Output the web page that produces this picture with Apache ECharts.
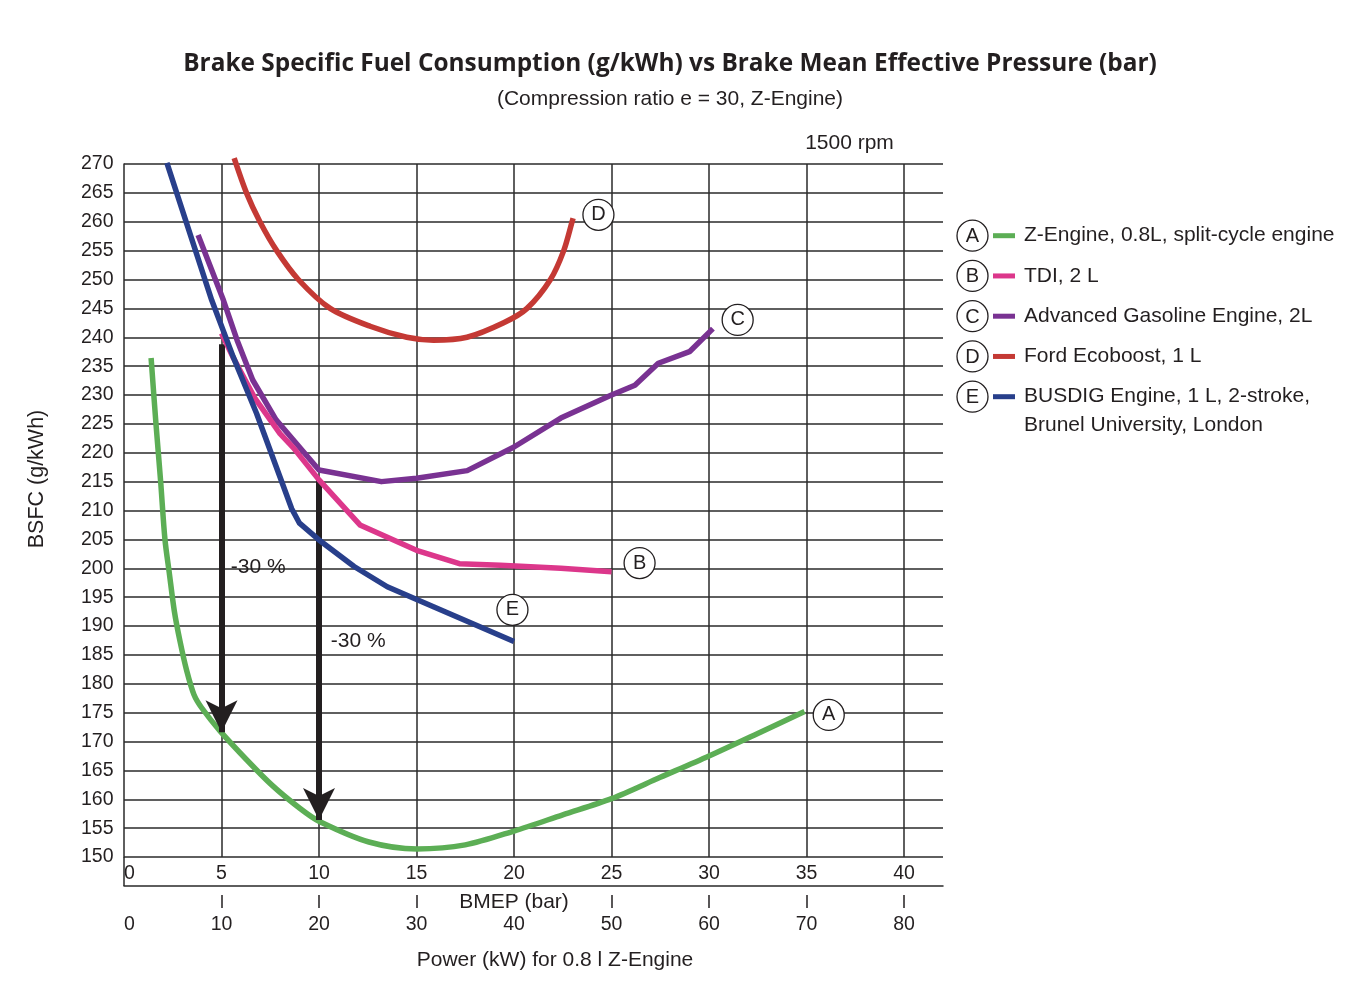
<!DOCTYPE html>
<html><head><meta charset="utf-8">
<script src="https://cdn.jsdelivr.net/npm/echarts@6/dist/echarts.min.js"></script>
<style>html,body{margin:0;padding:0;background:#fff}#chart{width:1356px;height:1005px}</style>
</head><body><div id="chart"></div>
<script>
// ---------- data ----------
const bmepTicks = [0, 5, 10, 15, 20, 25, 30, 35, 40];
const powerTicks = [0, 10, 20, 30, 40, 50, 60, 70, 80];
const powerTickMarks = [10, 20, 30, 50, 60, 70, 80];

// A: Z-Engine
const zEngine = [[1.39,236.4],[1.64,225],[1.88,215],[2.10,205],[2.33,199],[2.58,192.6],[2.87,187.4],[3.22,182.2],[3.59,178.1],[3.99,175.8],[4.93,171.8],[6.30,166.8],[7.6,162.4],[9.03,158.4],[10,156.2],[12.56,152.6],[15.03,151.4],[17.5,152.1],[20,154.5],[22.5,157.3],[25,160.1],[27.5,163.8],[30,167.5],[32.5,171.4],[34.9,175.2]];
// B: TDI 2 L
const tdi = [[5.0,240.7],[5.6,236.5],[6.7,229.5],[8.0,223.3],[8.7,220.8],[10.0,215.3],[12.1,207.5],[15.0,203.1],[17.2,200.8],[19.3,200.5],[22.4,200.0],[25.0,199.4]];
// C: Advanced Gasoline Engine 2L
const gasoline = [[3.8,257.7],[5.1,246.4],[5.8,239.5],[6.6,232.6],[7.8,225.7],[10,217],[13.2,215],[15,215.6],[17.6,216.9],[20,221],[22.4,226],[25,230],[26.2,231.7],[27.4,235.5],[29,237.5],[30.2,241.5]];
// D: Ford Ecoboost 1 L
const ecoboost = [[5.65,271.0],[6.28,265],[6.97,260],[7.83,255],[8.94,250],[10.57,245],[12.62,241.9],[14.5,240],[15.87,239.5],[17.59,240],[19.47,242.5],[20.67,245],[21.87,250],[22.55,255],[22.98,260],[23.03,260.6]];
// E: BUSDIG
const busdig = [[2.2,270.2],[4.5,246.4],[5.6,236.6],[6.8,226.8],[8.0,215.8],[8.6,210.3],[9.0,207.8],[10,204.9],[11.8,200.3],[13.5,196.8],[15.9,193.3],[20,187.3]];

const seriesNames = ['Z-Engine, 0.8L, split-cycle engine', 'TDI, 2 L', 'Advanced Gasoline Engine, 2L', 'Ford Ecoboost, 1 L', 'BUSDIG Engine, 1 L, 2-stroke,\nBrunel University, London'];
const seriesLetters = ['A', 'B', 'C', 'D', 'E'];
const letterPositions = [[36.14,174.6],[26.44,200.9],[31.47,243.0],[24.33,261.2],[19.92,192.8]];
const arrowStarts = [[5,238.8],[10,215.3]];
const arrowTips = [[5,171.6],[10,156.4]];
const arrowLabelPos = [[5.45,200.2],[10.58,187.4]];
const arrowLabel = '-30 %';

// ---------- style ----------
const colors = ['#5cae55', '#dc378b', '#793292', '#c43934', '#283f8b'];
const TXT = '#231f20';
const GRIDC = '#2a2a2a';
const FONT = "'Liberation Sans', Arial, sans-serif";
const smoothing = [0.3, false, false, 0.3, false];
const zs = [3, 5, 4, 2, 6];

const chart = echarts.init(document.getElementById('chart'), null, {renderer: 'canvas'});

const series = [zEngine, tdi, gasoline, ecoboost, busdig].map((d, i) => ({
  type: 'line', name: seriesNames[i], data: d, symbol: 'none', showSymbol: false,
  smooth: smoothing[i],
  clip: false, z: zs[i], silent: true,
  lineStyle: {color: colors[i], width: 5.5, cap: 'butt', join: 'round'},
  markPoint: {
    silent: true, symbol: 'circle', symbolSize: 31,
    itemStyle: {color: '#fff', borderColor: TXT, borderWidth: 1.3},
    label: {show: true, formatter: seriesLetters[i], color: TXT, fontSize: 20, fontFamily: FONT},
    data: [{coord: letterPositions[i]}]
  }
}));

series.push({
  type: 'line', name: 'arrows', data: [], z: 10, silent: true,
  markLine: {
    silent: true, symbol: ['none', 'arrow'], symbolSize: [24, 32],
    lineStyle: {color: TXT, width: 6, type: 'solid', opacity: 1},
    itemStyle: {color: TXT},
    label: {show: false},
    emphasis: {disabled: true},
    data: arrowStarts.map((s, i) => [{coord: s}, {coord: arrowTips[i]}])
  },
  markPoint: {
    silent: true, symbol: 'circle', symbolSize: 1, itemStyle: {color: 'rgba(0,0,0,0)'},
    label: {show: true, position: 'right', distance: 0, formatter: arrowLabel, color: TXT, fontSize: 21, fontFamily: FONT},
    data: arrowLabelPos.map(p => ({coord: p}))
  }
});

const option = {
  animation: false,
  backgroundColor: '#fff',
  title: [
    {text: 'Brake Specific Fuel Consumption (g/kWh) vs Brake Mean Effective Pressure (bar)', left: 670, top: 52, textAlign: 'center', padding: 0,
     textStyle: {fontFamily: "'Open Sans', sans-serif", fontWeight: 700, fontSize: 24.4, color: TXT}},
    {text: '(Compression ratio e = 30, Z-Engine)', left: 670, top: 88.5, textAlign: 'center', padding: 0,
     textStyle: {fontFamily: FONT, fontWeight: 'normal', fontSize: 21, color: TXT}},
    {text: '1500 rpm', left: 849.5, top: 132.5, textAlign: 'center', padding: 0,
     textStyle: {fontFamily: FONT, fontWeight: 'normal', fontSize: 21, color: TXT}}
  ],
  grid: {left: 124, top: 164, width: 819, height: 693, containLabel: false},
  xAxis: [
    {type: 'value', min: 0, max: 42, interval: 5, position: 'bottom', offset: 29,
     axisLine: {show: true, lineStyle: {color: GRIDC, width: 1.5}},
     axisTick: {show: false},
     axisLabel: {inside: true, margin: 2, customValues: bmepTicks, alignMinLabel: 'left', color: TXT, fontSize: 19.5, fontFamily: FONT},
     splitLine: {show: true, showMinLine: false, showMaxLine: false, lineStyle: {color: GRIDC, width: 1.5}},
     name: 'BMEP (bar)', nameLocation: 'middle', nameGap: 3,
     nameTextStyle: {color: TXT, fontSize: 21, fontFamily: FONT, padding: [0, 39, 0, 0]}},
    {type: 'value', min: 0, max: 84, interval: 10, position: 'bottom', offset: 38,
     axisLine: {show: false},
     axisTick: {show: true, customValues: powerTickMarks, length: 13, lineStyle: {color: TXT, width: 1.5}},
     axisLabel: {margin: 20, customValues: powerTicks, alignMinLabel: 'left', color: TXT, fontSize: 19.5, fontFamily: FONT},
     splitLine: {show: false},
     name: 'Power (kW) for 0.8 l Z-Engine', nameLocation: 'middle', nameGap: 55,
     nameTextStyle: {color: TXT, fontSize: 21, fontFamily: FONT, padding: [0, 0, 0, 43]}}
  ],
  yAxis: {
    type: 'value', min: 150, max: 270, interval: 5,
    axisLine: {show: true, lineStyle: {color: GRIDC, width: 1.5}},
    axisTick: {show: false},
    axisLabel: {margin: 10.5, color: TXT, fontSize: 19.5, fontFamily: FONT},
    splitLine: {show: true, lineStyle: {color: GRIDC, width: 1.5}},
    name: 'BSFC (g/kWh)', nameLocation: 'middle', nameRotate: 90, nameGap: 76,
    nameTextStyle: {color: TXT, fontSize: 21.5, fontFamily: FONT, padding: [0, 0, 0, 63]}
  },
  series: series
};
chart.setOption(option);

// legend + left axis extension (decoration)
const origin = chart.convertToPixel({gridIndex: 0}, [0, 150]);
const graphics = [
  {type: 'line', shape: {x1: origin[0], y1: origin[1], x2: origin[0], y2: origin[1] + 29}, style: {stroke: GRIDC, lineWidth: 1.5}, silent: true}
];
const legendTop = 235.7, legendStep = 40.25, legendCx = 972.5;
seriesNames.forEach((n, i) => {
  const y = legendTop + i * legendStep;
  graphics.push({type: 'circle', shape: {cx: legendCx, cy: y, r: 15.5}, style: {fill: '#fff', stroke: TXT, lineWidth: 1.3}, silent: true});
  graphics.push({type: 'text', x: legendCx, y: y + 1, style: {text: seriesLetters[i], fill: TXT, font: '20px ' + FONT, align: 'center', verticalAlign: 'middle'}, silent: true});
  graphics.push({type: 'rect', shape: {x: 993, y: y - 2.5, width: 22, height: 5}, style: {fill: colors[i]}, silent: true});
  graphics.push({type: 'text', x: 1024, y: y - 14.25, style: {text: n, fill: TXT, font: '21px ' + FONT, align: 'left', verticalAlign: 'top', lineHeight: 28.5}, silent: true});
});
chart.setOption({graphic: graphics});
</script>
</body></html>
